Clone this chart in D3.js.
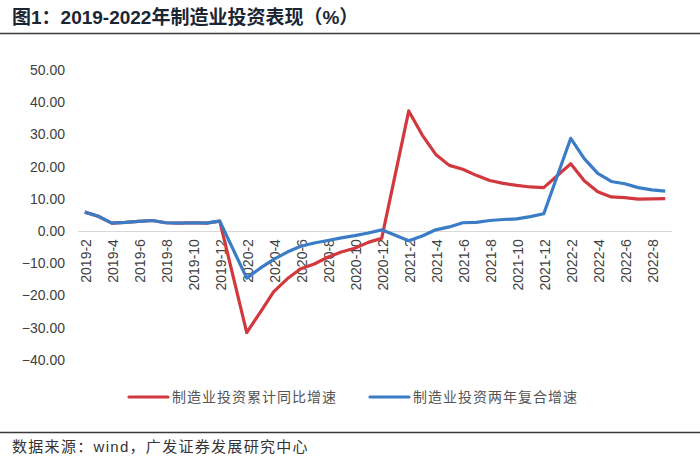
<!DOCTYPE html>
<html lang="zh">
<head>
<meta charset="utf-8">
<title>2019-2022年制造业投资表现</title>
<script src="https://cdn.jsdelivr.net/npm/d3@7/dist/d3.min.js"></script>
<style>
  body { margin: 0; background: #fff; }
  svg { display: block; }
  .cjk { font-family: "Liberation Sans", "Noto Sans CJK SC", sans-serif; }
  .tick-lab { font-family: "Liberation Sans", Arial, sans-serif; font-size: 14px; fill: #404040; }
</style>
</head>
<body>
<svg id="chart" width="700" height="462"></svg>
<script>
// categories: monthly, January has no release (null)
var months = [];
[2019, 2020, 2021, 2022].forEach(function(y) {
  var start = (y === 2019) ? 2 : 1, end = (y === 2022) ? 9 : 12;
  for (var m = start; m <= end; m++) months.push(y + "-" + m);
});

// 制造业投资累计同比增速
var cumYoY = [
  5.9, 4.6, 2.5, 2.7, 3.0, 3.3, 2.6, 2.5, 2.6, 2.5, 3.1,
  null, -31.5, -25.2, -18.8, -14.8, -11.7, -10.2, -8.1, -6.5, -5.3, -3.5, -2.2,
  null, 37.3, 29.8, 23.8, 20.4, 19.2, 17.3, 15.7, 14.8, 14.2, 13.7, 13.5,
  null, 20.9, 15.6, 12.2, 10.6, 10.4, 9.9, 10.0, 10.1
];
// 制造业投资两年复合增速
var twoYear = [
  5.9, 4.6, 2.5, 2.7, 3.0, 3.3, 2.6, 2.5, 2.6, 2.5, 3.1,
  null, -14.6, -11.5, -8.8, -6.5, -4.7, -3.7, -2.9, -2.1, -1.4, -0.6, 0.4,
  null, -3.0, -1.5, 0.4, 1.3, 2.6, 2.7, 3.3, 3.6, 3.8, 4.5, 5.4,
  null, 28.8, 22.5, 17.9, 15.4, 14.7, 13.5, 12.8, 12.4
];
var yTicks = [-40, -30, -20, -10, 0, 10, 20, 30, 40, 50];
var seriesNames = ["制造业投资累计同比增速", "制造业投资两年复合增速"];
var seriesColors = ["#d2393f", "#3b7cc6"];

var svg = d3.select("#chart");

// title + rules
svg.append("text").attr("class", "cjk")
  .attr("x", 12).attr("y", 24)
  .style("font-size", "19px").style("font-weight", "bold").style("fill", "#1c2533")
  .text("图1：2019-2022年制造业投资表现（%）");
svg.append("line").attr("x1", 0).attr("x2", 700).attr("y1", 33.5).attr("y2", 33.5)
  .style("stroke", "#3a3a3a").style("stroke-width", 1.5);
svg.append("line").attr("x1", 0).attr("x2", 700).attr("y1", 432.5).attr("y2", 432.5)
  .style("stroke", "#3a3a3a").style("stroke-width", 1.5);
svg.append("text").attr("class", "cjk")
  .attr("x", 12).attr("y", 452)
  .style("font-size", "15px").style("fill", "#333").style("letter-spacing", "1.3px")
  .text("数据来源：wind，广发证券发展研究中心");

//////////////////////////////////////
// scales
var x = d3.scaleBand().domain(months).range([78, 672]).padding(0);
var y = d3.scaleLinear().domain([-40, 50]).range([360, 70]);
function cx(d) { return x(d) + x.bandwidth() / 2; }

// y axis labels (no axis line)
svg.append("g").selectAll("text").data(yTicks).enter().append("text")
  .attr("class", "tick-lab")
  .attr("x", 65).attr("y", function(d) { return y(d); })
  .attr("dy", "0.35em").attr("text-anchor", "end")
  .text(function(d) { return d3.format(".2f")(d); });

// zero line
svg.append("line")
  .attr("x1", 78).attr("x2", 672)
  .attr("y1", Math.round(y(0)) + 0.5).attr("y2", Math.round(y(0)) + 0.5)
  .style("stroke", "#d9d9d9").style("stroke-width", 1.2);

// x labels every other month, rotated
var xLabels = months.filter(function(d, i) { return i % 2 === 0; });
svg.append("g").selectAll("text").data(xLabels).enter().append("text")
  .attr("class", "tick-lab")
  .style("font-size", "14px")
  .attr("text-anchor", "end")
  .attr("transform", function(d) { return "translate(" + (cx(d) + 6) + "," + (y(0) + 8) + ") rotate(-90)"; })
  .text(function(d) { return d; });

// lines
var line = d3.line()
  .defined(function(d) { return d.v !== null; })
  .x(function(d) { return cx(d.m); })
  .y(function(d) { return y(d.v); });

[cumYoY, twoYear].forEach(function(vals, k) {
  var pts = months.map(function(m, i) { return { m: m, v: vals[i] }; })
    .filter(function(d) { return d.v !== null; });
  svg.append("path").datum(pts)
    .attr("d", line)
    .style("fill", "none")
    .style("stroke", seriesColors[k])
    .style("stroke-width", 3.2)
    .style("stroke-linejoin", "round");
});

// legend
var legX = [129, 370];
seriesNames.forEach(function(name, k) {
  svg.append("line")
    .attr("x1", legX[k]).attr("x2", legX[k] + 39)
    .attr("y1", 397).attr("y2", 397)
    .style("stroke", seriesColors[k]).style("stroke-width", 3.2)
    .style("stroke-linecap", "round");
  svg.append("text").attr("class", "cjk")
    .attr("x", legX[k] + 43).attr("y", 397).attr("dy", "0.36em")
    .style("font-size", "14px").style("fill", "#555").style("letter-spacing", "1px")
    .text(name);
});
</script>
</body>
</html>
